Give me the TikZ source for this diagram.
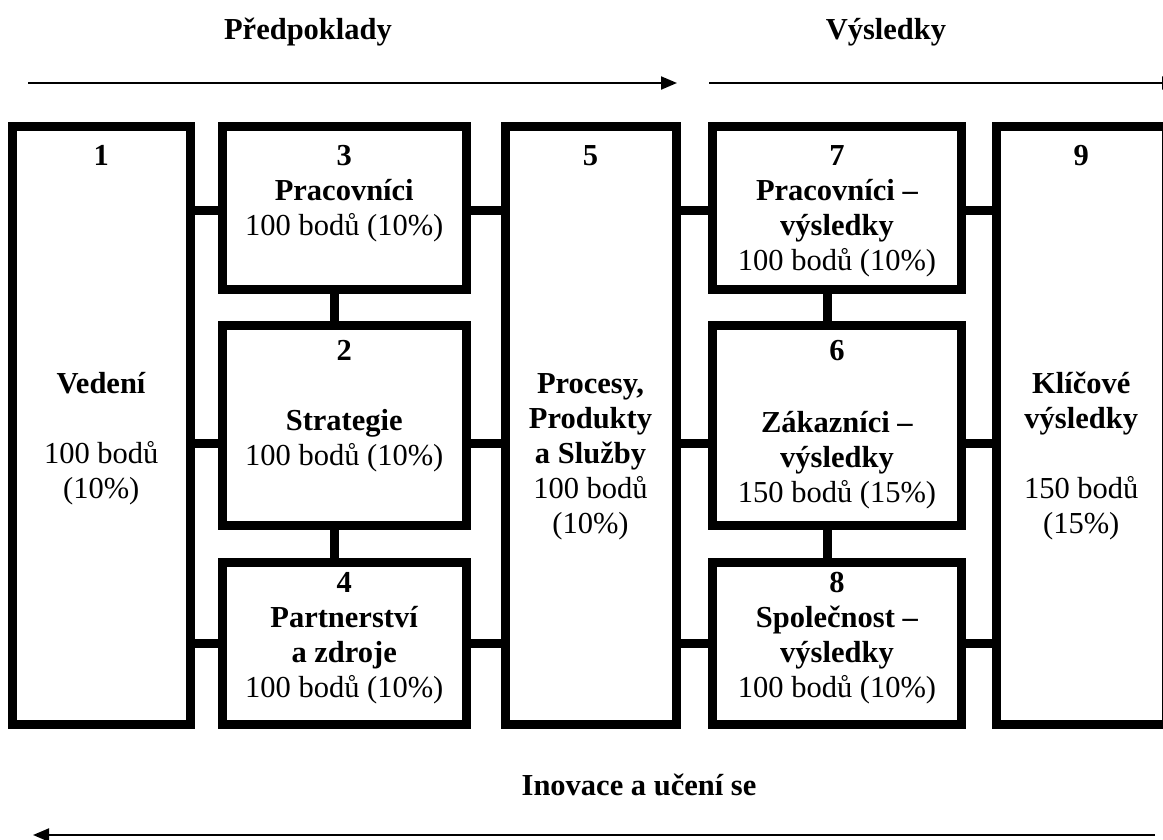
\documentclass[tikz,border=0pt]{standalone}
\usepackage{fontspec}
\setmainfont{Liberation Serif}
\usetikzlibrary{positioning}
\usetikzlibrary{arrows.meta}
\newcommand{\boxlines}[1]{\begin{tabular}[t]{@{}c@{}}#1\end{tabular}}
\tikzset{
  every node/.style={font=\fontsize{30.5}{35}\selectfont, inner sep=0pt},
  crit/.style={draw, line width=9pt},
  link/.style={line width=9pt},
  num/.style={anchor=base, font=\fontsize{30.5}{35}\selectfont\bfseries},
  txt/.style={anchor=base},
  flow/.style={line width=2pt, -{Triangle[length=16pt,width=13pt]}}
}

\begin{document}
\begin{tikzpicture}[x=1pt, y=-1pt]
  \useasboundingbox (0,0) rectangle (1163,839);
  \clip (0,0) rectangle (1163,839);

  % headings and arrows
  \node [num] (pred) at (308,39) {Předpoklady};
  \node [num] (vysl) at (886,39) {Výsledky};
  \node [num] (inov) at (639,795) {Inovace a učení se};

  \coordinate (pstart) at (28,83);
  \coordinate (pend) at (677,83);
  \coordinate (vstart) at (709,83);
  \coordinate (vend) at (1178,83);
  \coordinate (istart) at (1155,835);
  \coordinate (iend) at (33,835);
  \draw [flow] (pstart) -- (pend);
  \draw [flow] (vstart) -- (vend);
  \draw [flow] (istart) -- (iend);

  % criteria boxes
  \node [crit, minimum width=178.5, minimum height=598] (b1) at (101.25,425.5) {};
  \node [crit, minimum width=244.5, minimum height=162.5] (b3) at (344.25,207.75) {};
  \node [crit, minimum width=244.5, minimum height=199.5] (b2) at (344.25,425.25) {};
  \node [crit, minimum width=244.5, minimum height=162.5] (b4) at (344.25,643.25) {};
  \node [crit, minimum width=171, minimum height=598] (b5) at (590.5,425.5) {};
  \node [crit, minimum width=249, minimum height=162.5] (b7) at (837,207.75) {};
  \node [crit, minimum width=249, minimum height=199.5] (b6) at (837,425.25) {};
  \node [crit, minimum width=249, minimum height=162.5] (b8) at (837,643.25) {};
  \node [crit, minimum width=169.5, minimum height=598] (b9) at (1081.25,425.5) {};

  % links between boxes
  \coordinate (toprow) at (0,210);
  \coordinate (midrow) at (0,443);
  \coordinate (botrow) at (0,643);
  \draw [link] (b1.east |- toprow) -- (b3.west |- toprow);
  \draw [link] (b1.east |- midrow) -- (b2.west |- midrow);
  \draw [link] (b1.east |- botrow) -- (b4.west |- botrow);
  \draw [link] (b3.east |- toprow) -- (b5.west |- toprow);
  \draw [link] (b2.east |- midrow) -- (b5.west |- midrow);
  \draw [link] (b4.east |- botrow) -- (b5.west |- botrow);
  \draw [link] (b5.east |- toprow) -- (b7.west |- toprow);
  \draw [link] (b5.east |- midrow) -- (b6.west |- midrow);
  \draw [link] (b5.east |- botrow) -- (b8.west |- botrow);
  \draw [link] (b7.east |- toprow) -- (b9.west |- toprow);
  \draw [link] (b6.east |- midrow) -- (b9.west |- midrow);
  \draw [link] (b8.east |- botrow) -- (b9.west |- botrow);
  \draw [link] ([xshift=-10]b3.south) -- ([xshift=-10]b2.north);
  \draw [link] ([xshift=-10]b2.south) -- ([xshift=-10]b4.north);
  \draw [link] ([xshift=-10]b7.south) -- ([xshift=-10]b6.north);
  \draw [link] ([xshift=-10]b6.south) -- ([xshift=-10]b8.north);

  % numbers
  \node [num] (n1) at (b1.center |- 0,165) {1};
  \node [num] (n3) at (b3.center |- 0,165) {3};
  \node [num] (n2) at (b2.center |- 0,360) {2};
  \node [num] (n4) at (b4.center |- 0,592) {4};
  \node [num] (n5) at (b5.center |- 0,165) {5};
  \node [num] (n7) at (b7.center |- 0,165) {7};
  \node [num] (n6) at (b6.center |- 0,360) {6};
  \node [num] (n8) at (b8.center |- 0,592) {8};
  \node [num] (n9) at (b9.center |- 0,165) {9};

  % texts
  \node [txt] (t1) at (b1.center |- 0,393) {\boxlines{\textbf{Vedení}\\ \\100 bodů\\(10\%)}};
  \node [txt] (t3) at (b3.center |- 0,200) {\boxlines{\textbf{Pracovníci}\\100 bodů (10\%)}};
  \node [txt] (t2) at (b2.center |- 0,430) {\boxlines{\textbf{Strategie}\\100 bodů (10\%)}};
  \node [txt] (t4) at (b4.center |- 0,627) {\boxlines{\textbf{Partnerství}\\\textbf{a zdroje}\\100 bodů (10\%)}};
  \node [txt] (t5) at (b5.center |- 0,393) {\boxlines{\textbf{Procesy,}\\\textbf{Produkty}\\\textbf{a Služby}\\100 bodů\\(10\%)}};
  \node [txt] (t7) at (b7.center |- 0,200) {\boxlines{\textbf{Pracovníci –}\\\textbf{výsledky}\\100 bodů (10\%)}};
  \node [txt] (t6) at (b6.center |- 0,432) {\boxlines{\textbf{Zákazníci –}\\\textbf{výsledky}\\150 bodů (15\%)}};
  \node [txt] (t8) at (b8.center |- 0,627) {\boxlines{\textbf{Společnost –}\\\textbf{výsledky}\\100 bodů (10\%)}};
  \node [txt] (t9) at (b9.center |- 0,393) {\boxlines{\textbf{Klíčové}\\\textbf{výsledky}\\ \\150 bodů\\(15\%)}};

\end{tikzpicture}
\end{document}
